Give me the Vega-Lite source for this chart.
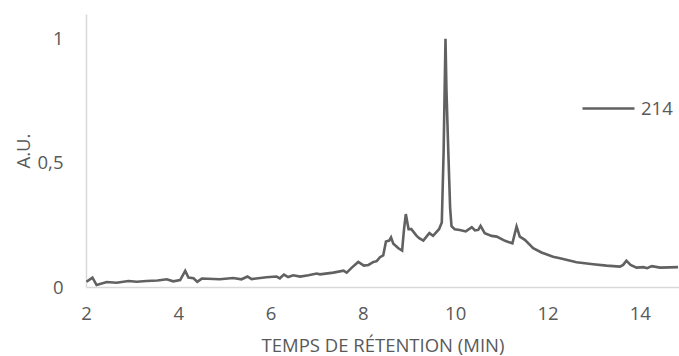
{
  "$schema": "https://vega.github.io/schema/vega-lite/v6.json",
  "width": 593,
  "height": 273,
  "autosize": {"type": "none"},
  "padding": {"left": 86, "top": 14, "right": 0, "bottom": 69},
  "background": "white",
  "config": {
    "view": {"stroke": null},
    "font": "Open Sans"
  },
  "data": {
    "values": [
      {"t": 2.01, "v": 0.021, "s": "214"},
      {"t": 2.14, "v": 0.038, "s": "214"},
      {"t": 2.23, "v": 0.008, "s": "214"},
      {"t": 2.45, "v": 0.02, "s": "214"},
      {"t": 2.66, "v": 0.017, "s": "214"},
      {"t": 2.92, "v": 0.024, "s": "214"},
      {"t": 3.1, "v": 0.021, "s": "214"},
      {"t": 3.31, "v": 0.024, "s": "214"},
      {"t": 3.55, "v": 0.026, "s": "214"},
      {"t": 3.75, "v": 0.031, "s": "214"},
      {"t": 3.89, "v": 0.023, "s": "214"},
      {"t": 4.04, "v": 0.028, "s": "214"},
      {"t": 4.15, "v": 0.065, "s": "214"},
      {"t": 4.22, "v": 0.038, "s": "214"},
      {"t": 4.33, "v": 0.035, "s": "214"},
      {"t": 4.41, "v": 0.021, "s": "214"},
      {"t": 4.51, "v": 0.034, "s": "214"},
      {"t": 4.9, "v": 0.031, "s": "214"},
      {"t": 5.19, "v": 0.036, "s": "214"},
      {"t": 5.37, "v": 0.031, "s": "214"},
      {"t": 5.5, "v": 0.042, "s": "214"},
      {"t": 5.59, "v": 0.032, "s": "214"},
      {"t": 5.91, "v": 0.039, "s": "214"},
      {"t": 6.13, "v": 0.042, "s": "214"},
      {"t": 6.2, "v": 0.035, "s": "214"},
      {"t": 6.29, "v": 0.05, "s": "214"},
      {"t": 6.38, "v": 0.04, "s": "214"},
      {"t": 6.49, "v": 0.047, "s": "214"},
      {"t": 6.64, "v": 0.042, "s": "214"},
      {"t": 6.82, "v": 0.047, "s": "214"},
      {"t": 7.0, "v": 0.054, "s": "214"},
      {"t": 7.07, "v": 0.051, "s": "214"},
      {"t": 7.36, "v": 0.058, "s": "214"},
      {"t": 7.58, "v": 0.066, "s": "214"},
      {"t": 7.65, "v": 0.058, "s": "214"},
      {"t": 7.76, "v": 0.078, "s": "214"},
      {"t": 7.9, "v": 0.101, "s": "214"},
      {"t": 8.02, "v": 0.086, "s": "214"},
      {"t": 8.12, "v": 0.089, "s": "214"},
      {"t": 8.23, "v": 0.101, "s": "214"},
      {"t": 8.3, "v": 0.104, "s": "214"},
      {"t": 8.37, "v": 0.12, "s": "214"},
      {"t": 8.44, "v": 0.127, "s": "214"},
      {"t": 8.5, "v": 0.183, "s": "214"},
      {"t": 8.57, "v": 0.187, "s": "214"},
      {"t": 8.61, "v": 0.2, "s": "214"},
      {"t": 8.66, "v": 0.174, "s": "214"},
      {"t": 8.77, "v": 0.156, "s": "214"},
      {"t": 8.85, "v": 0.147, "s": "214"},
      {"t": 8.89, "v": 0.23, "s": "214"},
      {"t": 8.93, "v": 0.294, "s": "214"},
      {"t": 8.99, "v": 0.233, "s": "214"},
      {"t": 9.05, "v": 0.233, "s": "214"},
      {"t": 9.16, "v": 0.207, "s": "214"},
      {"t": 9.22, "v": 0.197, "s": "214"},
      {"t": 9.31, "v": 0.187, "s": "214"},
      {"t": 9.44, "v": 0.217, "s": "214"},
      {"t": 9.52, "v": 0.206, "s": "214"},
      {"t": 9.65, "v": 0.233, "s": "214"},
      {"t": 9.71, "v": 0.26, "s": "214"},
      {"t": 9.75, "v": 0.55, "s": "214"},
      {"t": 9.79, "v": 1.0, "s": "214"},
      {"t": 9.81, "v": 0.8, "s": "214"},
      {"t": 9.85, "v": 0.55, "s": "214"},
      {"t": 9.89, "v": 0.32, "s": "214"},
      {"t": 9.92, "v": 0.245, "s": "214"},
      {"t": 9.99, "v": 0.233, "s": "214"},
      {"t": 10.1, "v": 0.23, "s": "214"},
      {"t": 10.23, "v": 0.224, "s": "214"},
      {"t": 10.36, "v": 0.241, "s": "214"},
      {"t": 10.43, "v": 0.228, "s": "214"},
      {"t": 10.5, "v": 0.23, "s": "214"},
      {"t": 10.55, "v": 0.246, "s": "214"},
      {"t": 10.64, "v": 0.217, "s": "214"},
      {"t": 10.79, "v": 0.206, "s": "214"},
      {"t": 10.9, "v": 0.203, "s": "214"},
      {"t": 11.08, "v": 0.186, "s": "214"},
      {"t": 11.24, "v": 0.176, "s": "214"},
      {"t": 11.33, "v": 0.244, "s": "214"},
      {"t": 11.4, "v": 0.203, "s": "214"},
      {"t": 11.51, "v": 0.19, "s": "214"},
      {"t": 11.69, "v": 0.156, "s": "214"},
      {"t": 11.87, "v": 0.139, "s": "214"},
      {"t": 12.12, "v": 0.122, "s": "214"},
      {"t": 12.27, "v": 0.116, "s": "214"},
      {"t": 12.63, "v": 0.1, "s": "214"},
      {"t": 12.99, "v": 0.092, "s": "214"},
      {"t": 13.28, "v": 0.086, "s": "214"},
      {"t": 13.57, "v": 0.082, "s": "214"},
      {"t": 13.64, "v": 0.089, "s": "214"},
      {"t": 13.71, "v": 0.106, "s": "214"},
      {"t": 13.8, "v": 0.089, "s": "214"},
      {"t": 13.93, "v": 0.078, "s": "214"},
      {"t": 14.08, "v": 0.08, "s": "214"},
      {"t": 14.16, "v": 0.076, "s": "214"},
      {"t": 14.26, "v": 0.084, "s": "214"},
      {"t": 14.44, "v": 0.078, "s": "214"},
      {"t": 14.83, "v": 0.08, "s": "214"}
    ]
  },
  "mark": {"type": "line", "strokeWidth": 2.6, "clip": true},
  "encoding": {
    "x": {
      "field": "t",
      "type": "quantitative",
      "scale": {"domain": [2, 14.85], "nice": false, "zero": false},
      "axis": {
        "title": "TEMPS DE RÉTENTION (MIN)",
        "values": [2, 4, 6, 8, 10, 12, 14],
        "grid": false,
        "ticks": false,
        "domainColor": "#d9d9d9",
        "domainWidth": 1.5,
        "labelColor": "#595959",
        "labelFontSize": 18.5,
        "labelPadding": 17,
        "labelFlush": false,
        "titleColor": "#595959",
        "titleFontSize": 18.5,
        "titleFontWeight": "normal",
        "titlePadding": 14
      }
    },
    "y": {
      "field": "v",
      "type": "quantitative",
      "scale": {"domain": [0, 1.1], "nice": false},
      "axis": {
        "title": "A.U.",
        "values": [0, 0.5, 1],
        "format": "~g",
        "labelExpr": "replace(datum.label, '.', ',')",
        "grid": false,
        "ticks": false,
        "domainColor": "#d9d9d9",
        "domainWidth": 1.5,
        "labelColor": "#595959",
        "labelFontSize": 18.5,
        "labelPadding": 23,
        "labelFlush": false,
        "titleColor": "#595959",
        "titleFontSize": 18.5,
        "titleFontWeight": "normal",
        "titlePadding": 4
      }
    },
    "color": {
      "field": "s",
      "type": "nominal",
      "scale": {"range": ["#616161"]},
      "legend": {
        "title": null,
        "orient": "none",
        "legendX": 495,
        "legendY": 67,
        "padding": 0,
        "symbolType": "stroke",
        "symbolSize": 2704,
        "symbolStrokeWidth": 2.6,
        "labelFontSize": 18.5,
        "labelColor": "#595959",
        "labelOffset": 5
      }
    }
  }
}
